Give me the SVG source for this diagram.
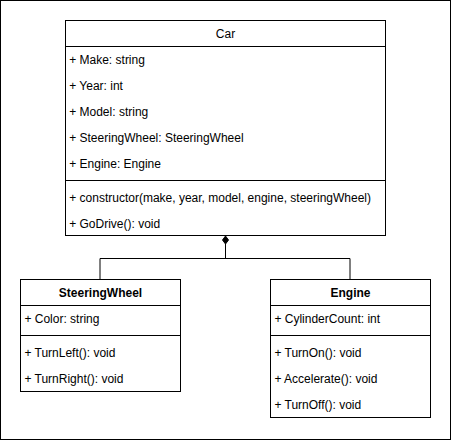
<svg xmlns="http://www.w3.org/2000/svg" width="451" height="441" viewBox="0 0 451 441">
<style>
.box{fill:#fff;stroke:#000;stroke-width:1}
.ln{stroke:#000;stroke-width:1;fill:none}
text{font-family:"Liberation Sans",Arial,sans-serif;font-size:12px;fill:#000}
.h{text-anchor:middle}
.b{font-weight:bold}
</style>
<rect x="0.5" y="0.5" width="450" height="439" fill="#fff" stroke="#000"/>
<g id="connectors">
<polyline class="ln" points="100,279 100,258.5 350,258.5 350,279"/>
<line class="ln" x1="225.5" y1="244" x2="225.5" y2="258.5"/>
<polygon points="225.5,236 228.5,240 225.5,244 222.5,240" fill="#000" stroke="#000"/>
</g>
<g id="Car">
<rect class="box" x="65.5" y="20.5" width="320" height="215"/>
<line class="ln" x1="65.5" y1="46.5" x2="385.5" y2="46.5"/>
<line class="ln" x1="65.5" y1="180.5" x2="385.5" y2="180.5"/>
<text class="h" x="225.5" y="38">Car</text>
<text x="69.2" y="64">+ Make: string</text>
<text x="69.2" y="90">+ Year: int</text>
<text x="69.2" y="116">+ Model: string</text>
<text x="69.2" y="142">+ SteeringWheel: SteeringWheel</text>
<text x="69.2" y="168">+ Engine: Engine</text>
<text x="69.2" y="202">+ constructor(make, year, model, engine, steeringWheel)</text>
<text x="69.2" y="228">+ GoDrive(): void</text>
</g>
<g id="SteeringWheel">
<rect class="box" x="20.5" y="279.5" width="160" height="112"/>
<line class="ln" x1="20.5" y1="305.5" x2="180.5" y2="305.5"/>
<line class="ln" x1="20.5" y1="335.5" x2="180.5" y2="335.5"/>
<text class="h b" x="100.5" y="297">SteeringWheel</text>
<text x="24.4" y="323">+ Color: string</text>
<text x="24.4" y="357">+ TurnLeft(): void</text>
<text x="24.4" y="383">+ TurnRight(): void</text>
</g>
<g id="Engine">
<rect class="box" x="270.5" y="279.5" width="160" height="138"/>
<line class="ln" x1="270.5" y1="305.5" x2="430.5" y2="305.5"/>
<line class="ln" x1="270.5" y1="335.5" x2="430.5" y2="335.5"/>
<text class="h b" x="350.5" y="297">Engine</text>
<text x="274.4" y="323">+ CylinderCount: int</text>
<text x="274.4" y="357">+ TurnOn(): void</text>
<text x="274.4" y="383">+ Accelerate(): void</text>
<text x="274.4" y="409">+ TurnOff(): void</text>
</g>
</svg>
